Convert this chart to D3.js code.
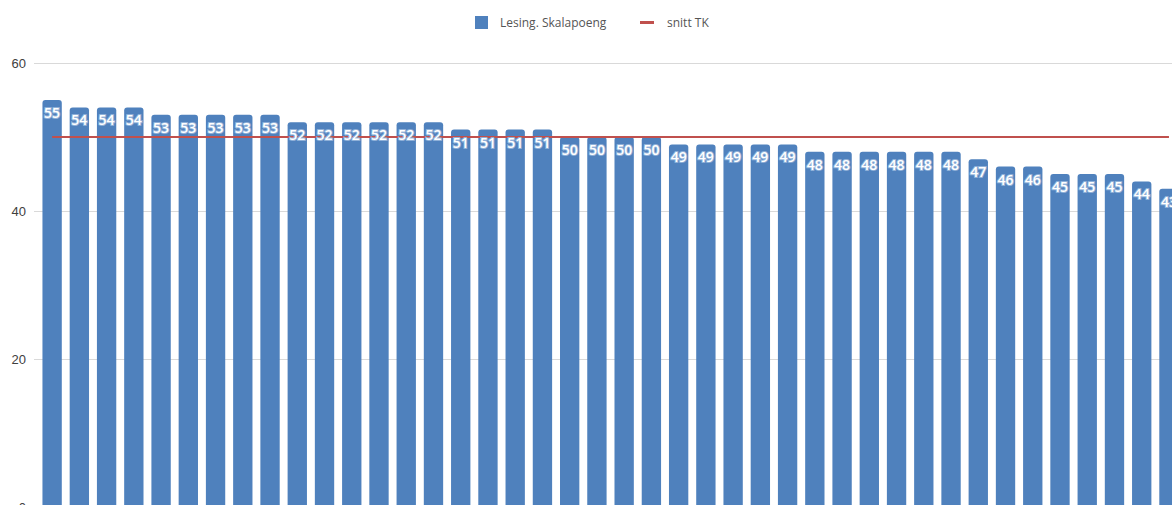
<!DOCTYPE html>
<html>
<head>
<meta charset="utf-8">
<script src="https://cdn.jsdelivr.net/npm/d3@7"></script>
<style>
  body { margin: 0; background: #fff; }
  svg { display: block; font-family: "Open Sans", sans-serif; }
</style>
</head>
<body>
<svg class="chart"></svg>
<script>
// dados
var scores = [55, 54, 54, 54, 53, 53, 53, 53, 53, 52, 52, 52, 52, 52, 52,
              51, 51, 51, 51, 50, 50, 50, 50, 49, 49, 49, 49, 49,
              48, 48, 48, 48, 48, 48, 47, 46, 46, 45, 45, 45, 44, 43];
var categories = scores.map(function(d, i) { return "s" + (i + 1); });
var avgTK = 50;
var yTicks = [0, 20, 40, 60];
var seriesNames = ["Lesing. Skalapoeng", "snitt TK"];

var width = 1172, height = 505;
var blue = "#4f81bd", red = "#c0504d";

var svg = d3.select(".chart")
   .attr("width", width)
   .attr("height", height);

// escalas
var xScale = d3.scaleBand()
   .domain(categories)
   .range([38.5, 38.5 + 27.24 * categories.length])
   .paddingInner(0.29)
   .paddingOuter(0.145);

var yScale = d3.scaleLinear()
   .domain([0, 60])
   .range([507, 63]);

// grade + eixo y
var yAxis = d3.axisLeft(yScale)
   .tickValues(yTicks)
   .tickSize(-(width - 34))
   .tickPadding(8);

var yAxisG = svg.append("g")
   .attr("transform", "translate(34,0)")
   .call(yAxis);
yAxisG.select(".domain").remove();
yAxisG.selectAll(".tick line").attr("stroke", "#d9d9d9");
yAxisG.selectAll(".tick text")
   .attr("fill", "#404040")
   .style("font-size", "13px");

// barras
var bw = xScale.bandwidth(), r = 3;
svg.append("g").selectAll("path")
   .data(scores)
   .enter().append("path")
   .attr("fill", blue)
   .attr("d", function(d, i) {
      var x = xScale(categories[i]), y = yScale(d), y0 = yScale(0);
      return "M" + x + "," + y0 + "V" + (y + r) +
             "Q" + x + "," + y + " " + (x + r) + "," + y +
             "H" + (x + bw - r) +
             "Q" + (x + bw) + "," + y + " " + (x + bw) + "," + (y + r) +
             "V" + y0 + "Z";
   });

// linha da média
var line = d3.line()
   .x(function(d) { return xScale(d) + bw / 2; })
   .y(function() { return yScale(avgTK); });
svg.append("path")
   .datum(categories)
   .attr("fill", "none")
   .attr("stroke", red)
   .attr("stroke-width", 2)
   .attr("d", line);

// rótulos
svg.append("g").selectAll("text")
   .data(scores)
   .enter().append("text")
   .attr("x", function(d, i) { return xScale(categories[i]) + bw / 2; })
   .attr("y", function(d) { return yScale(d) + 18; })
   .attr("text-anchor", "middle")
   .style("font-size", "14px")
   .style("font-weight", 600)
   .attr("fill", "#fff")
   .attr("stroke", "#8fb0d8")
   .attr("stroke-width", 2)
   .attr("paint-order", "stroke")
   .text(function(d) { return d; });

// legenda
var legend = svg.append("g").style("font-size", "12px").attr("fill", "#555");
legend.append("rect")
   .attr("x", 475).attr("y", 16).attr("width", 13).attr("height", 13)
   .attr("fill", blue);
legend.append("text")
   .attr("x", 500).attr("y", 27)
   .text(seriesNames[0]);
legend.append("line")
   .attr("x1", 640).attr("x2", 654).attr("y1", 22.5).attr("y2", 22.5)
   .attr("stroke", red).attr("stroke-width", 3);
legend.append("text")
   .attr("x", 667).attr("y", 27)
   .text(seriesNames[1]);
</script>
</body>
</html>
